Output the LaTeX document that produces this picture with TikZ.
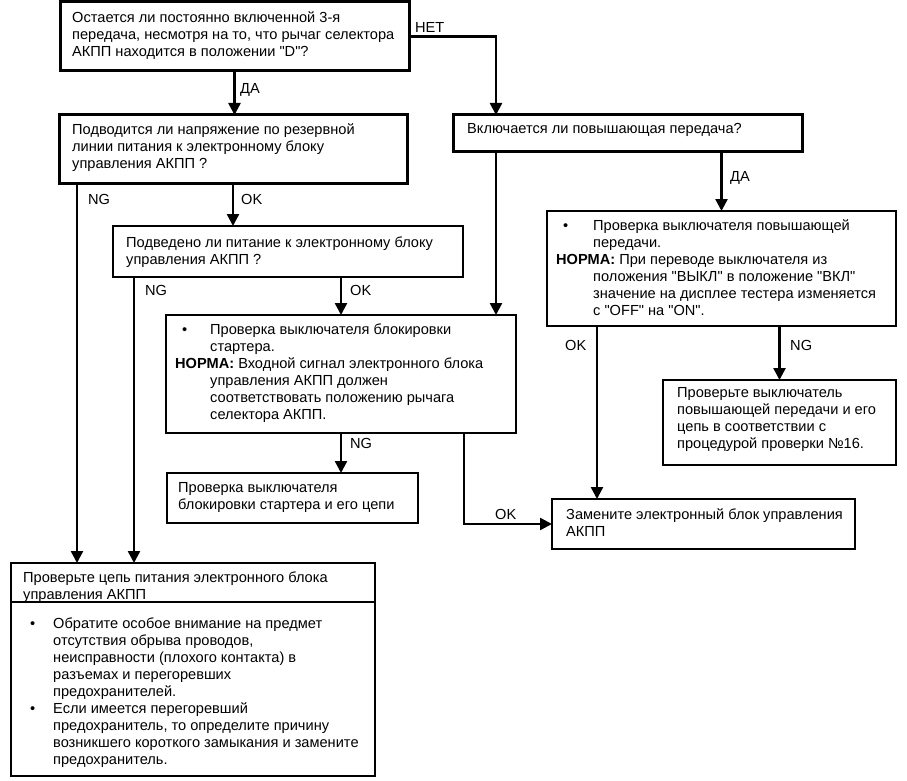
\documentclass[tikz,border=0pt]{standalone}
\usepackage{fontspec}
\setmainfont{Liberation Sans}[Ligatures=TeXOff]
\usetikzlibrary{arrows.meta,calc}
\tikzset{
  boxA/.style={draw,line width=3pt,rectangle,inner sep=0pt,outer sep=0pt,anchor=north west},
  boxB/.style={draw,line width=2pt,rectangle,inner sep=0pt,outer sep=0pt,anchor=north west},
  txt/.style={inner sep=0pt,align=left,anchor=west,font=\fontsize{14.6}{17}\selectfont},
  lbl/.style={inner sep=0pt,anchor=west,font=\fontsize{14.6}{17}\selectfont},
  conn/.style={line width=2.5pt,-{Triangle[length=12pt,width=12pt]}},
}
\newcommand{\bul}[1]{\makebox[#1][l]{\textbullet}}
\begin{document}
\begin{tikzpicture}[x=1pt,y=-1pt]
\useasboundingbox (0,0) rectangle (907,781);
% boxes
\node[boxA,minimum width=349pt,minimum height=69pt] (b1) at (60,2) {};
\node[boxA,minimum width=348pt,minimum height=68pt] (b2) at (59,115) {};
\node[boxA,minimum width=349pt,minimum height=36pt] (b3) at (453,115) {};
\node[boxB,minimum width=350pt,minimum height=51pt] (q3) at (113,226) {};
\node[boxB,minimum width=350pt,minimum height=118pt] (b5) at (166,315) {};
\node[boxB,minimum width=349pt,minimum height=115pt] (b4) at (547,211) {};
\node[boxB,minimum width=233pt,minimum height=85pt] (b6) at (663,380) {};
\node[boxB,minimum width=251pt,minimum height=50pt] (b7) at (167,473) {};
\node[boxB,minimum width=303pt,minimum height=50pt] (b9) at (552,499) {};
\node[boxB,minimum width=364pt,minimum height=39pt] (b8h) at (11,563) {};
\node[boxB,minimum width=364pt,minimum height=174pt] (b8) at (11,602) {};
% texts
\node[txt] (t1) at (72,36) {Остается ли постоянно включенной 3-я\\передача, несмотря на то, что рычаг селектора\\АКПП находится в положении "D"?};
\node[txt] (t2) at (72,148) {Подводится ли напряжение по резервной\\линии питания к электронному блоку\\управления АКПП ?};
\node[txt] (t3) at (467,130) {Включается ли повышающая передача?};
\node[txt] (tq3) at (126,252) {Подведено ли питание к электронному блоку\\управления АКПП ?};
\node[txt] (t5) at (175,373) {\hspace*{7pt}\bul{28pt}Проверка выключателя блокировки\\
\hspace*{35pt}стартера.\\
\textbf{НОРМА:} Входной сигнал электронного блока\\
\hspace*{35pt}управления АКПП должен\\
\hspace*{35pt}соответствовать положению рычага\\
\hspace*{35pt}селектора АКПП.};
\node[txt] (t4) at (556,268) {\hspace*{7pt}\bul{30pt}Проверка выключателя повышающей\\
\hspace*{37pt}передачи.\\
\textbf{НОРМА:} При переводе выключателя из\\
\hspace*{37pt}положения "ВЫКЛ" в положение "ВКЛ"\\
\hspace*{37pt}значение на дисплее тестера изменяется\\
\hspace*{37pt}с "OFF" на "ON".};
\node[txt] (t6) at (677,419) {Проверьте выключатель\\повышающей передачи и его\\цепь в соответствии с\\процедурой проверки №16.};
\node[txt] (t7) at (178,497) {Проверка выключателя\\блокировки стартера и его цепи};
\node[txt] (t9) at (566,523) {Замените электронный блок управления\\АКПП};
\node[txt] (t8h) at (23,587) {Проверьте цепь питания электронного блока\\управления АКПП};
\node[txt] (t8) at (30,693) {\bul{23pt}Обратите особое внимание на предмет\\
\hspace*{23pt}отсутствия обрыва проводов,\\
\hspace*{23pt}неисправности (плохого контакта) в\\
\hspace*{23pt}разъемах и перегоревших\\
\hspace*{23pt}предохранителей.\\
\bul{23pt}Если имеется перегоревший\\
\hspace*{23pt}предохранитель, то определите причину\\
\hspace*{23pt}возникшего короткого замыкания и замените\\
\hspace*{23pt}предохранитель.};
% connector start points
\coordinate (s3) at ($(b3.south west)+(43,0)$);
\coordinate (n3) at ($(b3.north west)+(43,0)$);
\coordinate (s2ng) at ($(b2.south west)+(18,0)$);
\coordinate (sq3ng) at ($(q3.south west)+(21,0)$);
\coordinate (s5ok) at ($(b5.south east)+(-52,0)$);
\coordinate (s4ok) at ($(b4.south west)+(50,0)$);
% connectors
\draw[conn] (b1.south) -- (b1.south |- b2.north);
\node[lbl] (l1) at (240,90) {ДА};
\draw[conn] (b1.east) -| (n3);
\node[lbl] (l2) at (415,27) {НЕТ};
\draw[conn] (s2ng) -- (s2ng |- b8h.north);
\node[lbl] (l3) at (88,199) {NG};
\draw[conn] (b2.south) -- (b2.south |- q3.north);
\node[lbl] (l4) at (241,199) {OK};
\draw[conn] (s3) -- (s3 |- b5.north);
\draw[conn] (b4.north |- b3.south) -- (b4.north);
\node[lbl] (l5) at (730,178) {ДА};
\draw[conn] (sq3ng) -- (sq3ng |- b8h.north);
\node[lbl] (l6) at (145,290) {NG};
\draw[conn] (b5.north |- q3.south) -- (b5.north);
\node[lbl] (l7) at (350,290) {OK};
\draw[conn] (b5.south) -- (b5.south |- b7.north);
\node[lbl] (l8) at (350,443) {NG};
\draw[conn] (s5ok) |- (b9.west);
\node[lbl] (l9) at (495,514) {OK};
\draw[conn] (s4ok) -- (s4ok |- b9.north);
\node[lbl] (l10) at (565,345) {OK};
\draw[conn] (b4.south -| b6.north) -- (b6.north);
\node[lbl] (l11) at (790,345) {NG};
\end{tikzpicture}
\end{document}
